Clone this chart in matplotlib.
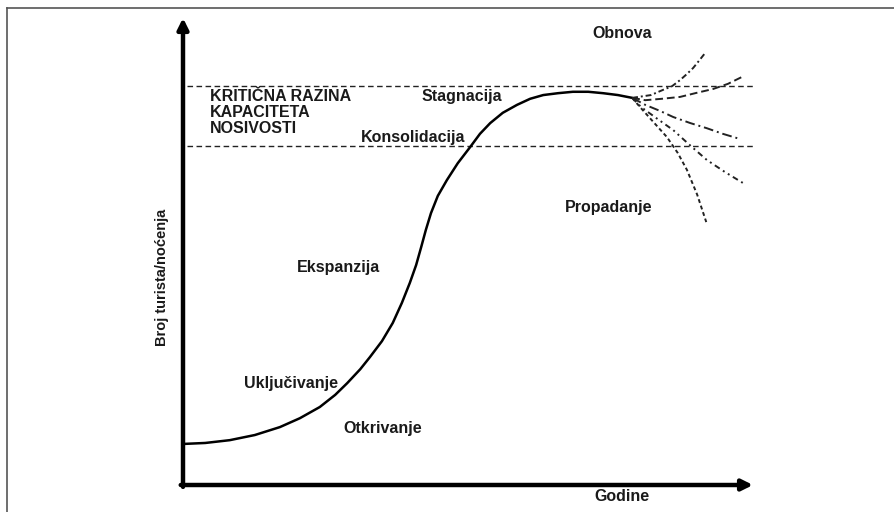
import matplotlib.pyplot as plt
from matplotlib.lines import Line2D

# glavna krivulja (godine, broj turista) - ocitano sa slike
curve_x = [0.2, 3.9, 8.2, 12.6, 17.0, 20.5, 24.0, 26.7, 28.8, 31.1, 32.8, 34.9,
           36.8, 38.4, 39.8, 40.9, 41.8, 42.6, 43.5, 44.7, 46.3, 48.2, 50.4, 52.1,
           53.9, 56.1, 58.6, 60.9, 63.2, 65.8, 68.4, 71.1, 73.7, 76.3, 78.8]
curve_y = [8.8, 9.0, 9.6, 10.7, 12.4, 14.3, 16.7, 19.3, 21.8, 24.8, 27.4, 30.8,
           34.7, 39.0, 43.3, 47.1, 51.0, 54.6, 58.2, 61.9, 65.3, 68.9, 72.4, 75.2,
           77.5, 79.7, 81.4, 82.7, 83.5, 83.9, 84.2, 84.2, 83.9, 83.5, 82.9]

# razine kapaciteta nosivosti
limit_upper = 85.4
limit_lower = 72.6

# moguci scenariji nakon stagnacije
branch_x = [
    [78.8, 82.1, 84.2, 85.8, 87.2, 88.4, 89.5, 90.5, 91.6],
    [78.8, 81.1, 84.0, 87.2, 90.2, 93.0, 95.6, 98.1],
    [78.8, 81.1, 83.7, 86.0, 89.0, 91.9, 94.7, 97.7],
    [78.8, 80.4, 83.0, 86.0, 88.9, 91.9, 95.1, 98.2],
    [78.8, 80.2, 82.4, 84.9, 86.8, 88.4, 90.2, 91.8],
]
branch_y = [
    [82.9, 83.5, 84.6, 85.4, 86.7, 88.0, 89.3, 90.8, 92.5],
    [82.9, 82.4, 82.7, 83.1, 84.0, 84.8, 85.9, 87.4],
    [82.9, 81.4, 80.1, 78.8, 77.5, 76.4, 75.2, 74.1],
    [82.9, 80.9, 78.6, 76.0, 72.8, 69.6, 67.0, 64.7],
    [82.9, 80.9, 77.9, 74.5, 71.1, 67.5, 62.2, 56.3],
]
branch_dashes = [(3, 1.5, 1, 1.5), (4, 2), (5, 2, 1, 2), (3, 2, 1, 2, 1, 2), (2, 1.5)]

# faze i pozicije oznaka
stages = ['Obnova', 'Stagnacija', 'Konsolidacija', 'Ekspanzija',
          'Uključivanje', 'Otkrivanje', 'Propadanje']
stage_x = [77.0, 48.9, 40.4, 27.2, 18.9, 35.1, 74.6]
stage_y = [96.6, 83.1, 74.5, 46.5, 21.8, 12.2, 59.5]

plt.rcParams['font.family'] = ['Liberation Sans', 'DejaVu Sans']
txt_color = '#1a1a1a'

fig = plt.figure(figsize=(8.95, 5.12), dpi=100)

# okvir slike (samo gore i lijevo)
fig.add_artist(Line2D([7 / 895, 1], [1 - 8 / 512, 1 - 8 / 512], color='#555555', lw=1.2))
fig.add_artist(Line2D([7 / 895, 7 / 895], [0, 1 - 8 / 512], color='#555555', lw=1.2))

ax = fig.add_axes([183 / 895, 27 / 512, 570 / 895, 467 / 512])
ax.set_xlim(0, 100)
ax.set_ylim(0, 100)
ax.axis('off')

# osi sa strelicama
ax.annotate('', xy=(100, 0), xytext=(-0.4, 0),
            arrowprops=dict(arrowstyle='-|>', lw=3.2, color='black', mutation_scale=16,
                            shrinkA=0, shrinkB=0), annotation_clip=False)
ax.annotate('', xy=(0, 100), xytext=(0, -0.4),
            arrowprops=dict(arrowstyle='-|>', lw=3.2, color='black', mutation_scale=16,
                            shrinkA=0, shrinkB=0), annotation_clip=False)

# isprekidane granice
ax.plot([0.7, 100], [limit_upper, limit_upper], color='#222222', lw=1.0, dashes=(4, 2.5))
ax.plot([0.7, 100], [limit_lower, limit_lower], color='#222222', lw=1.0, dashes=(4, 2.5))

# krivulja zivotnog ciklusa
ax.plot(curve_x, curve_y, color='black', lw=1.8, solid_capstyle='round', solid_joinstyle='round')

for bx, by, d in zip(branch_x, branch_y, branch_dashes):
    ax.plot(bx, by, color='#222222', lw=1.4, dashes=d)

for s, x, y in zip(stages, stage_x, stage_y):
    ax.text(x, y, s, ha='center', va='center', fontsize=11.5, fontweight='bold', color=txt_color)

ax.text(4.7, 79.7, 'KRITIČNA RAZINA\nKAPACITETA\nNOSIVOSTI', ha='left', va='center',
        fontsize=11.5, fontweight='bold', color=txt_color, linespacing=1.08)

ax.text(77.0, -2.4, 'Godine', ha='center', va='center', fontsize=11.5,
        fontweight='bold', color=txt_color, clip_on=False)
ax.text(-3.7, 44.5, 'Broj turista/noćenja', ha='center', va='center', rotation=90,
        fontsize=10.5, fontweight='bold', color=txt_color, clip_on=False,
        family=['Liberation Sans Narrow', 'Liberation Sans'])

fig.savefig('out.png', dpi=100)
